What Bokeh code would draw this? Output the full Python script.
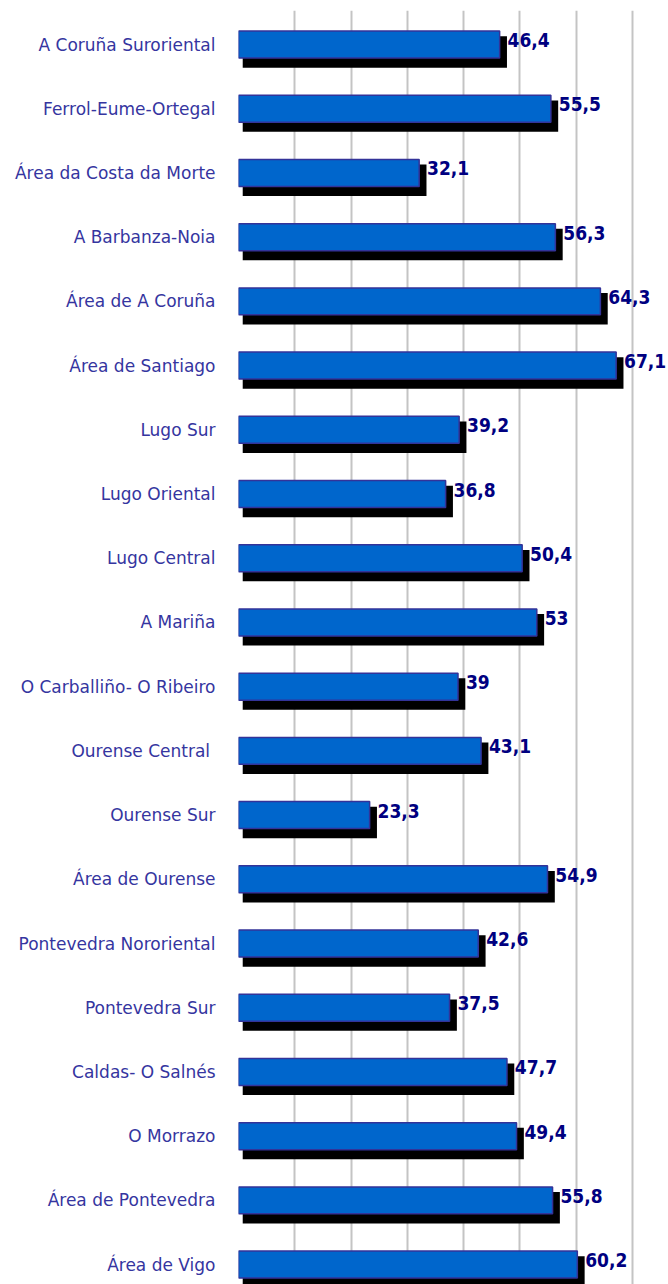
from bokeh.plotting import figure
from bokeh.models import ColumnDataSource, Range1d, FixedTicker
from bokeh.transform import dodge
from bokeh.core.properties import value
from bokeh.embed import file_html
from bokeh.resources import INLINE

categories = ["A Coruña Suroriental", "Ferrol-Eume-Ortegal", "Área da Costa da Morte",
              "A Barbanza-Noia", "Área de A Coruña", "Área de Santiago", "Lugo Sur",
              "Lugo Oriental", "Lugo Central", "A Mariña", "O Carballiño- O Ribeiro",
              "Ourense  Central", "Ourense Sur", "Área de Ourense", "Pontevedra Nororiental",
              "Pontevedra Sur", "Caldas- O Salnés", "O Morrazo", "Área de Pontevedra",
              "Área de Vigo"]
values = [46.4, 55.5, 32.1, 56.3, 64.3, 67.1, 39.2, 36.8, 50.4, 53,
          39, 43.1, 23.3, 54.9, 42.6, 37.5, 47.7, 49.4, 55.8, 60.2]
grid_ticks = [0, 10, 20, 30, 40, 50, 60, 70]


def fmt(v):
    s = ("%g" % v)
    return s.replace(".", ",")


positions = list(range(len(categories)))
source = ColumnDataSource(dict(
    y=positions,
    val=values,
    zero=[0] * len(values),
    label=[fmt(v) for v in values],
))

p = figure(width=668, height=1284, output_backend="svg", toolbar_location=None,
           x_range=Range1d(0, 76.4), y_range=Range1d(19.31, -0.53),
           min_border_left=238, min_border_right=0, min_border_top=10, min_border_bottom=0)
p.outline_line_color = None
p.background_fill_color = "white"
p.border_fill_color = "white"

# grid
p.xgrid.ticker = FixedTicker(ticks=grid_ticks)
p.xgrid.grid_line_color = "#C4C4C4"
p.xgrid.grid_line_width = 2
p.ygrid.visible = False
p.xaxis.visible = False

# y axis with category names
p.yaxis.ticker = FixedTicker(ticks=positions)
p.yaxis.major_label_overrides = {i: c for i, c in zip(positions, categories)}
p.yaxis.axis_line_color = None
p.yaxis.major_tick_line_color = None
p.yaxis.minor_tick_line_color = None
p.yaxis.major_label_standoff = 17
p.yaxis.major_label_text_font = "DejaVu Sans"
p.yaxis.major_label_text_font_size = "17px"
p.yaxis.major_label_text_color = "#3535A0"

# shadows
p.hbar(y=dodge("y", 0.115, range=p.y_range), left=dodge("zero", 0.75, range=p.x_range),
       right=dodge("val", 1.3, range=p.x_range), height=0.49, source=source,
       fill_color="black", line_color=None)
# bars
p.hbar(y="y", left=0, right="val", height=0.42, source=source,
       fill_color="#0066CC", line_color="#333399", line_width=1.5)
# value labels
p.text(x=dodge("val", 1.4, range=p.x_range), y=dodge("y", -0.07, range=p.y_range),
       text="label", source=source,
       text_font=value("DejaVu Sans Condensed"), text_font_style="bold",
       text_font_size="19px", text_color="#000080",
       text_align="left", text_baseline="middle")

open("out.html", "w").write(file_html(p, INLINE))
